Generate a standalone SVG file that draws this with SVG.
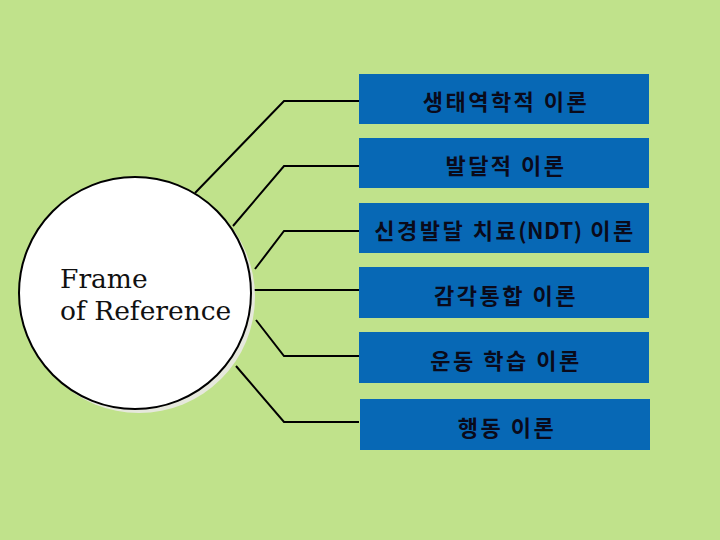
<svg xmlns="http://www.w3.org/2000/svg" width="720" height="540" viewBox="0 0 720 540">
<style>
.bg{fill:#c0e28b}
.box{fill:#0768b5}
.lbl{font-family:"Noto Sans CJK KR","Noto Sans",sans-serif;font-size:22px;font-weight:bold;fill:#0a0a1a;text-anchor:middle;letter-spacing:2.5px}
.tight{letter-spacing:0.5px}
.conn{fill:none;stroke:#000;stroke-width:2}
.ttl{font-family:"DejaVu Serif","Liberation Serif",serif;font-size:26.5px;fill:#111}
</style>
<rect class="bg" x="0" y="0" width="720" height="540"/>
<g id="connectors">
<polyline class="conn" points="195,193 284,101 359,101"/>
<polyline class="conn" points="233,226 284,166 359,166"/>
<polyline class="conn" points="255,269 284,231 359,231"/>
<polyline class="conn" points="251,290 359,290"/>
<polyline class="conn" points="256,320 284,356 359,356"/>
<polyline class="conn" points="236,366 284,422 359,422"/>
</g>
<g id="frame">
<circle cx="139" cy="297" r="116" fill="#e6e8dc"/>
<circle cx="135" cy="293" r="116" fill="#fff" stroke="#000" stroke-width="2"/>
<text class="ttl" x="60" y="288">Frame</text>
<text class="ttl" x="60" y="320">of Reference</text>
</g>
<g id="n1"><rect class="box" x="359" y="74" width="290" height="50"/><text class="lbl" x="506" y="110">생태역학적 이론</text></g>
<g id="n2"><rect class="box" x="359" y="138" width="290" height="50"/><text class="lbl" x="506" y="174">발달적 이론</text></g>
<g id="n3"><rect class="box" x="359" y="203" width="290" height="50"/><text class="lbl" x="505" y="239">신경발달 치료<tspan class="tight">(NDT)</tspan> 이론</text></g>
<g id="n4"><rect class="box" x="359" y="267" width="290" height="51"/><text class="lbl" x="506" y="304">감각통합 이론</text></g>
<g id="n5"><rect class="box" x="359" y="332" width="290" height="51"/><text class="lbl" x="506" y="369">운동 학습 이론</text></g>
<g id="n6"><rect class="box" x="360" y="399" width="290" height="51"/><text class="lbl" x="507" y="436">행동 이론</text></g>
</svg>
